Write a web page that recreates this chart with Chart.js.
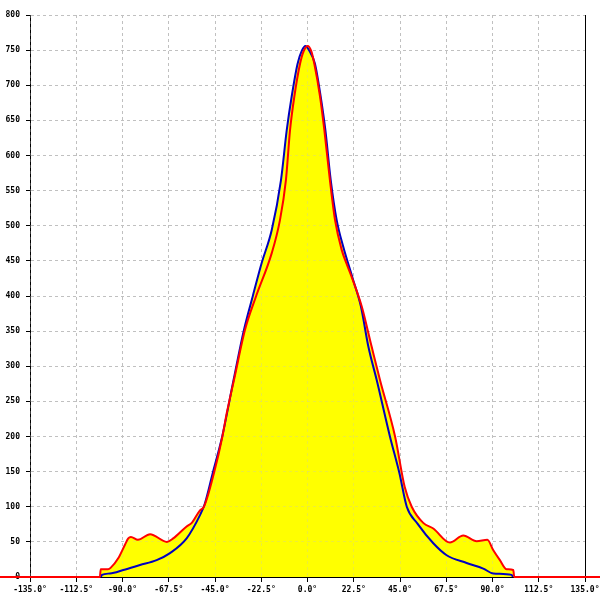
<!DOCTYPE html>
<html>
<head>
<meta charset="utf-8">
<script src="https://cdn.jsdelivr.net/npm/chart.js@4/dist/chart.umd.min.js"></script>
<style>
  body { margin: 0; background: #fff; }
  canvas { display: block; }
</style>
</head>
<body>
<canvas id="grafico" width="600" height="600"></canvas>
<script>
// Curva vermelha (preenchida) - ângulos e valores
const anguloVermelho = [-150, -101, -100.6, -97, -95.8, -92, -88.8, -87.2, -85.9, -82.5, -76.6, -68.4, -65.3, -58.8, -56.3, -52.3, -50.4, -45.5, -41.4, -39.3, -35.8, -30.4, -25.1, -17.4, -13.4, -10.5, -8.5, -6.4, -3.6, -1.8, 0.1, 1.8, 3.3, 6.1, 8.2, 10.9, 13.4, 16.6, 19, 22, 26.4, 31.2, 35.3, 42.6, 47.3, 50.7, 56.3, 61.2, 69.3, 75.8, 82.3, 87.5, 90.4, 93.6, 96.9, 100.1, 100.6, 150];
const valorVermelho = [0, 0, 11, 11, 13, 27, 46, 55, 57, 53, 61, 50, 55, 72, 77, 95, 100, 148, 200, 233, 280, 352, 399, 461, 508, 565, 636, 684, 731, 749, 756, 749, 731, 684, 636, 565, 508, 466, 446, 423, 385, 328, 280, 200, 128, 100, 77, 69, 49, 59, 51, 53, 38, 24, 11, 10, 0, 0];

// Curva azul
const anguloAzul = [-100.5, -100, -96.1, -89.6, -81.5, -73.4, -66.9, -58.8, -52.3, -50, -46.1, -41.5, -36, -30.9, -26.7, -22.3, -17.4, -12.9, -10.1, -7.7, -4.8, -2.8, -1, 0.9, 3.6, 6.4, 8.7, 11.3, 14.2, 17.4, 22, 26, 29.6, 33.7, 40.1, 44.7, 48.3, 53.5, 61.2, 67.7, 77.4, 85.5, 90.4, 99.3, 100];
const valorAzul = [0, 3, 5, 10, 17, 24, 34, 55, 88, 104, 148, 200, 280, 352, 399, 447, 494, 565, 636, 684, 731, 749, 756, 749, 731, 684, 636, 565, 508, 470, 425, 385, 328, 280, 200, 148, 100, 76, 48, 31, 20, 12, 5, 3, 0];

const fonteEixo = { family: 'DejaVu Sans Mono', size: 8, weight: 'bold' };

// Redesenha a grade levemente por cima do preenchimento amarelo
const gradeSobreArea = {
    id: 'gradeSobreArea',
    beforeDatasetsDraw(chart) {
        const c = chart.ctx;
        c.save();
        c.globalAlpha = 0.3;
        c.beginPath();
        c.rect(chart.chartArea.left, chart.chartArea.top, chart.chartArea.width, chart.chartArea.height);
        c.clip();
        chart.scales.x.drawGrid(chart.chartArea);
        chart.scales.y.drawGrid(chart.chartArea);
        c.restore();
    }
};

const ctx = document.getElementById('grafico').getContext('2d');

const grafico = new Chart(ctx, {
    type: 'line',
    data: {
        datasets: [{
            label: 'vermelho',
            data: anguloVermelho.map((a, i) => ({ x: a, y: valorVermelho[i] })),
            borderColor: '#ff0000',
            backgroundColor: '#ffff00',
            borderWidth: 2,
            pointRadius: 0,
            fill: 'origin',
            cubicInterpolationMode: 'monotone',
            clip: false
        }, {
            label: 'azul',
            data: anguloAzul.map((a, i) => ({ x: a, y: valorAzul[i] })),
            borderColor: '#0000c0',
            backgroundColor: '#ffff00',
            borderWidth: 2,
            pointRadius: 0,
            fill: 'origin',
            cubicInterpolationMode: 'monotone'
        }]
    },
    plugins: [gradeSobreArea],
    options: {
        responsive: false,
        animation: false,
        devicePixelRatio: 1,
        layout: { autoPadding: false, padding: { top: 15, left: 0, right: 0, bottom: 0 } },
        plugins: {
            legend: { display: false },
            tooltip: { enabled: false },
            filler: { drawTime: 'beforeDatasetsDraw' }
        },
        scales: {
            x: {
                type: 'linear',
                min: -135,
                max: 135,
                afterFit: s => {
                    s.height = 23;
                    s.paddingLeft = 0;
                    s.paddingRight = 0;
                },
                ticks: {
                    stepSize: 22.5,
                    autoSkip: false,
                    maxRotation: 0,
                    padding: 3,
                    color: '#000',
                    font: fonteEixo,
                    callback: v => v.toFixed(1) + '°'
                },
                grid: { color: '#c0c0c0', tickColor: '#000', tickLength: 5 },
                border: { color: '#000', width: 1, dash: [3, 3] }
            },
            y: {
                min: 0,
                max: 800,
                afterFit: s => { s.width = 30; s.paddingTop = 0; s.paddingBottom = 0; },
                ticks: { stepSize: 50, padding: 6, color: '#000', font: fonteEixo },
                grid: { color: '#c0c0c0', tickColor: '#000', tickLength: 4 },
                border: { color: '#000', width: 1, dash: [3, 3] }
            },
            y2: {
                position: 'right',
                min: 0,
                max: 800,
                afterFit: s => { s.width = 15; s.paddingTop = 0; s.paddingBottom = 0; },
                ticks: { display: false },
                grid: { drawOnChartArea: false, drawTicks: false },
                border: { color: '#000', width: 1 }
            }
        }
    }
});
</script>
</body>
</html>
